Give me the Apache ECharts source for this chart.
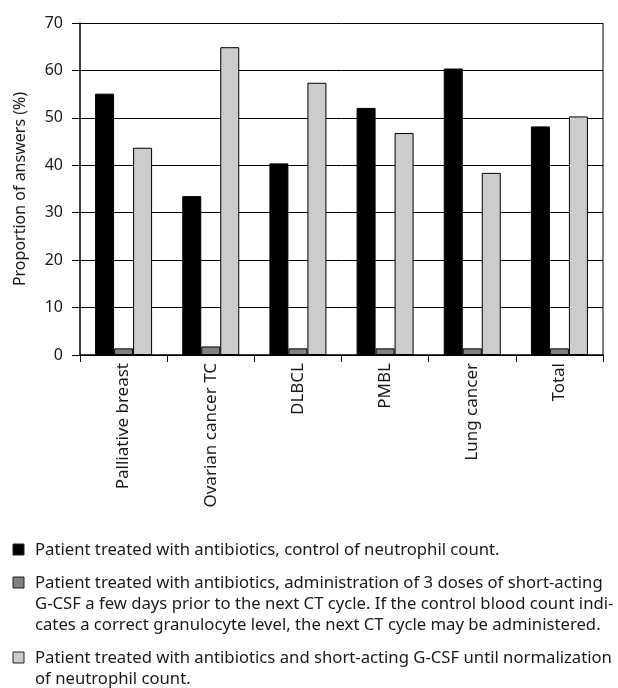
<!DOCTYPE html>
<html>
<head>
<meta charset="utf-8">
<script src="https://cdn.jsdelivr.net/npm/echarts@6/dist/echarts.min.js"></script>
<style>
  html, body { margin: 0; padding: 0; background: #fff; }
  #chart { width: 618px; height: 688px; }
</style>
</head>
<body>
<div id="chart"></div>
<script>
    // categories and series values
    var categories = ['Palliative breast', 'Ovarian cancer TC', 'DLBCL', 'PMBL', 'Lung cancer', 'Total'];
    var controlOnly = [55.1, 33.5, 40.4, 52.1, 60.4, 48.2];
    var threeDoses = [1.4, 1.8, 1.4, 1.4, 1.4, 1.4];
    var untilNormal = [43.7, 64.9, 57.4, 46.8, 38.4, 50.3];
    var legendLines = [
        ['Patient treated with antibiotics, control of neutrophil count.'],
        ['Patient treated with antibiotics, administration of 3 doses of short-acting',
         'G-CSF a few days prior to the next CT cycle. If the control blood count indi-',
         'cates a correct granulocyte level, the next CT cycle may be administered.'],
        ['Patient treated with antibiotics and short-acting G-CSF until normalization',
         'of neutrophil count.']
    ];
    var colors = ['#000000', '#808080', '#cccccc'];

    var font = '"Noto Sans", "Open Sans", sans-serif';
    var chart = echarts.init(document.getElementById('chart'));

    // legend drawn as graphic so the square sits on the first line
    var legendFirstLine = [550, 583, 658];
    var lineH = 21;
    var graphics = [];
    legendLines.forEach(function (lines, i) {
        graphics.push({
            type: 'rect',
            x: 13, y: legendFirstLine[i] - 6,
            shape: { width: 11, height: 11 },
            style: { fill: colors[i], stroke: '#222', lineWidth: 1 }
        });
        lines.forEach(function (t, j) {
            graphics.push({
                type: 'text',
                x: 35, y: legendFirstLine[i] + j * lineH,
                style: { text: t, font: '16.7px ' + font, fill: '#1a1a1a', verticalAlign: 'middle' }
            });
        });
    });

    function barSeries(name, data, color) {
        return {
            name: name,
            type: 'bar',
            data: data,
            barWidth: 19,
            barGap: '0%',
            itemStyle: { color: color, borderColor: '#000', borderWidth: 1 }
        };
    }

    chart.setOption({
        animation: false,
        textStyle: { fontFamily: font },
        grid: { left: 80, right: 15, top: 23, bottom: 333 },
        xAxis: {
            type: 'category',
            data: categories,
            axisLine: { lineStyle: { color: '#000', width: 1.5 } },
            axisTick: { show: true, length: 7, lineStyle: { color: '#000' } },
            axisLabel: { rotate: 90, color: '#1a1a1a', fontSize: 17, margin: 8 }
        },
        yAxis: {
            type: 'value',
            min: 0, max: 70, interval: 10,
            name: 'Proportion of answers (%)',
            nameLocation: 'middle',
            nameGap: 52,
            nameTextStyle: { fontSize: 16, color: '#1a1a1a' },
            axisLine: { show: true, lineStyle: { color: '#000', width: 1.5 } },
            axisTick: { show: true, length: 8, lineStyle: { color: '#000' } },
            axisLabel: { color: '#1a1a1a', fontSize: 16, margin: 17 },
            splitLine: { lineStyle: { color: '#000', width: 1 } }
        },
        graphic: graphics.concat([{
            type: 'line',
            shape: { x1: 603, y1: 23, x2: 603, y2: 355 },
            style: { stroke: '#000', lineWidth: 1 }
        }]),
        series: [
            barSeries('Control of neutrophil count', controlOnly, colors[0]),
            barSeries('3 doses of short-acting G-CSF', threeDoses, colors[1]),
            barSeries('Short-acting G-CSF until normalization', untilNormal, colors[2])
        ]
    });
</script>
</body>
</html>
